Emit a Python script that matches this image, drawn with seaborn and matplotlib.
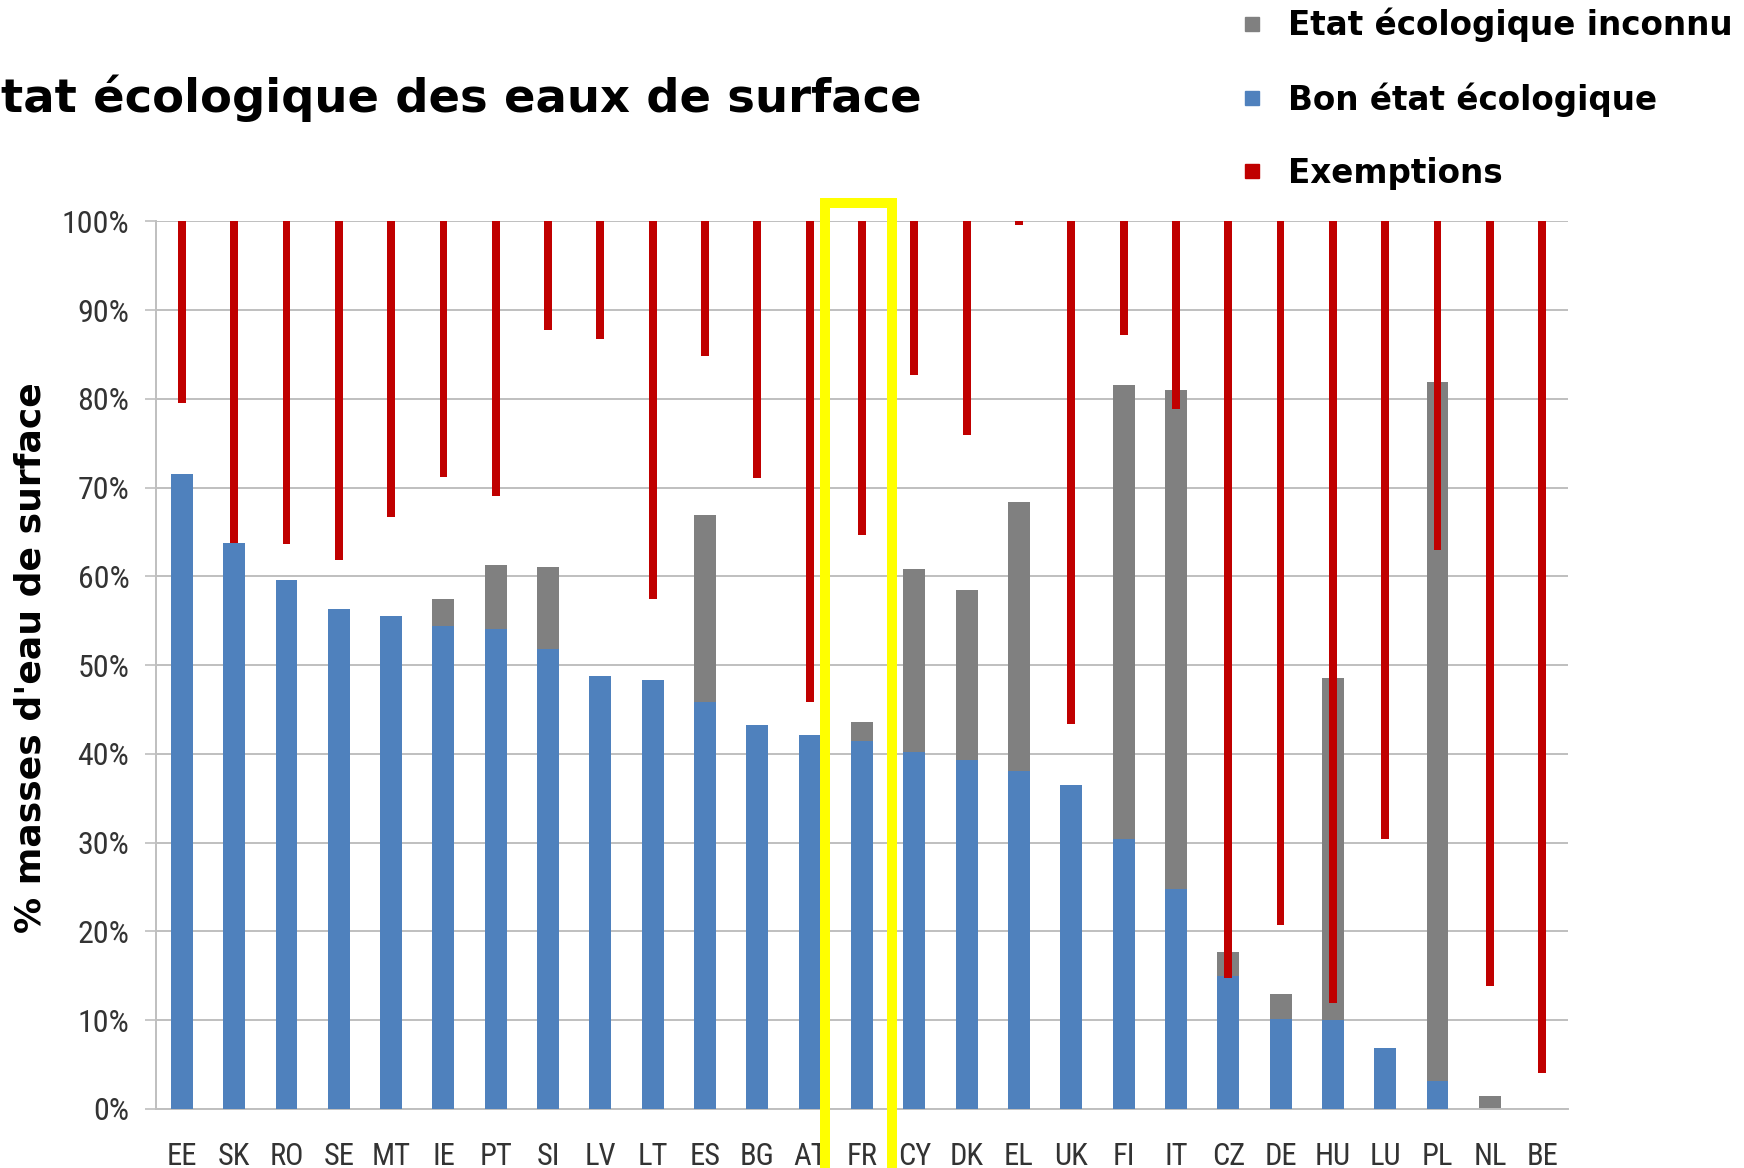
import numpy as np
import pandas as pd
import matplotlib
matplotlib.use("Agg")
import matplotlib.pyplot as plt
import seaborn as sns
from matplotlib import font_manager
from matplotlib.patches import Rectangle
from matplotlib.lines import Line2D
from matplotlib.ticker import FixedLocator, FuncFormatter

# ---------------- data ----------------
countries = ["EE", "SK", "RO", "SE", "MT", "IE", "PT", "SI", "LV", "LT", "ES", "BG", "AT",
             "FR", "CY", "DK", "EL", "UK", "FI", "IT", "CZ", "DE", "HU", "LU", "PL", "NL", "BE"]
# % good ecological status (blue)
good = [71.5, 63.8, 59.6, 56.3, 55.5, 54.4, 54.1, 51.8, 48.8, 48.3, 45.8, 43.3, 42.1,
        41.5, 40.2, 39.3, 38.1, 36.5, 30.4, 24.8, 15.0, 10.1, 10.0, 6.9, 3.1, 0.0, 0.0]
# % unknown ecological status (grey, stacked on blue)
unknown = [0.0, 0.0, 0.0, 0.0, 0.0, 3.0, 7.2, 9.3, 0.0, 0.0, 21.1, 0.0, 0.0,
           2.1, 20.6, 19.2, 30.3, 0.0, 51.2, 56.2, 2.7, 2.8, 38.6, 0.0, 78.8, 1.4, 0.0]
# % exemptions (red, hanging from 100 %)
exemptions = [20.5, 36.2, 36.4, 38.2, 33.3, 28.8, 30.9, 12.2, 13.3, 42.6, 15.2, 28.9, 54.2,
              35.3, 17.3, 24.1, 0.4, 56.6, 12.8, 21.1, 85.3, 79.3, 88.1, 69.6, 37.0, 86.2, 96.0]

title_text = "tat écologique des eaux de surface"
ylabel_text = "% masses d'eau de surface"
legend_labels = ["Etat écologique inconnu", "Bon état écologique", "Exemptions"]
highlight = "FR"
yticks = list(range(0, 101, 10))

# ---------------- style ----------------
sns.set_theme(style="white")
avail = {f.name for f in font_manager.fontManager.ttflist}
tick_font, xsize, ysize = "Liberation Sans", 20, 19.5
for cand in ["Liberation Sans Narrow", "Roboto Condensed", "DejaVu Sans Condensed",
             "Open Sans Condensed", "Noto Sans Condensed"]:
    if cand in avail:
        tick_font, xsize, ysize = cand, 22, 23
        break
plt.rcParams["font.family"] = ["DejaVu Sans"]

C_BLUE = "#4F81BD"
C_GREY = "#808080"
C_RED = "#C00000"
C_GRID = "#BFBFBF"
C_TICK = "#333333"

df = pd.DataFrame({"pays": countries, "bon": good, "inconnu": unknown, "exemptions": exemptions})
df["total"] = df["bon"] + df["inconnu"]
df["exempt_low"] = 100 - df["exemptions"]

W, H = 1744, 1168
fig = plt.figure(figsize=(W / 100, H / 100), dpi=100)
left, right, top, bottom = 155.7, 1568.3, 221.3, 1108.9
ax = fig.add_axes([left / W, 1 - bottom / H, (right - left) / W, (bottom - top) / H])

sns.barplot(data=df, x="pays", y="total", order=countries, color=C_GREY, width=0.42,
            linewidth=0, saturation=1, ax=ax, zorder=2)
sns.barplot(data=df, x="pays", y="bon", order=countries, color=C_BLUE, width=0.42,
            linewidth=0, saturation=1, ax=ax, zorder=3)
xpos = np.arange(len(countries))
ax.bar(xpos, df["exemptions"], bottom=df["exempt_low"], width=0.15, color=C_RED,
       linewidth=0, zorder=4)

ax.set_xlim(-0.5, len(countries) - 0.5)
ax.set_ylim(0, 100)
ax.set_xlabel("")
ax.set_ylabel("")

ax.yaxis.set_major_locator(FixedLocator(yticks))
ax.yaxis.set_major_formatter(FuncFormatter(lambda v, p: f"{v:.0f}%"))
ax.set_axisbelow(True)
ax.yaxis.grid(True, color=C_GRID, linewidth=1.4)
ax.xaxis.grid(False)

for s in ["top", "right"]:
    ax.spines[s].set_visible(False)
for s in ["left", "bottom"]:
    ax.spines[s].set_visible(True)
    ax.spines[s].set_color(C_GRID)
    ax.spines[s].set_linewidth(1.4)

ax.set_xticks(xpos)
ax.set_xticklabels(countries)
ax.set_xticks(np.arange(-0.5, len(countries), 1.0), minor=True)
ax.tick_params(axis="x", which="major", length=0, pad=24, labelsize=xsize, labelcolor=C_TICK)
ax.tick_params(axis="x", which="minor", length=6, width=1.2, color=C_GRID, direction="out")
ax.tick_params(axis="y", which="major", length=8, width=1.2, color=C_GRID, direction="out",
               pad=11, labelsize=ysize, labelcolor=C_TICK, left=True)
for lab in ax.get_xticklabels() + ax.get_yticklabels():
    lab.set_fontfamily(tick_font)

# highlight box around FR
i = countries.index(highlight)
rect = Rectangle((i - 0.707, -12), 1.281, 114.06, fill=False, edgecolor="#FFFF00",
                 linewidth=7.2, transform=ax.transData, clip_on=False, zorder=10)
ax.add_patch(rect)

# title and y label
fig.text(0.5 / W, 1 - 112 / H, title_text, fontsize=33.5, fontweight="bold",
         ha="left", va="baseline", color="black")
fig.text(31 / W, 1 - 658 / H, ylabel_text, fontsize=26, fontweight="bold",
         rotation=90, ha="center", va="center", color="black")

# legend
handles = [Line2D([], [], marker="s", linestyle="none", markersize=10, color=c)
           for c in (C_GREY, C_BLUE, C_RED)]
fig.legend(handles, legend_labels, loc="upper left", bbox_to_anchor=(1242 / W, 1 - 8 / H),
           bbox_transform=fig.transFigure, frameon=False, labelcolor="black",
           prop={"size": 23.5, "weight": "bold", "family": "DejaVu Sans"},
           handlelength=0.6, handletextpad=0.81, labelspacing=1.22,
           borderpad=0, borderaxespad=0)

fig.savefig("out.png", dpi=100)
